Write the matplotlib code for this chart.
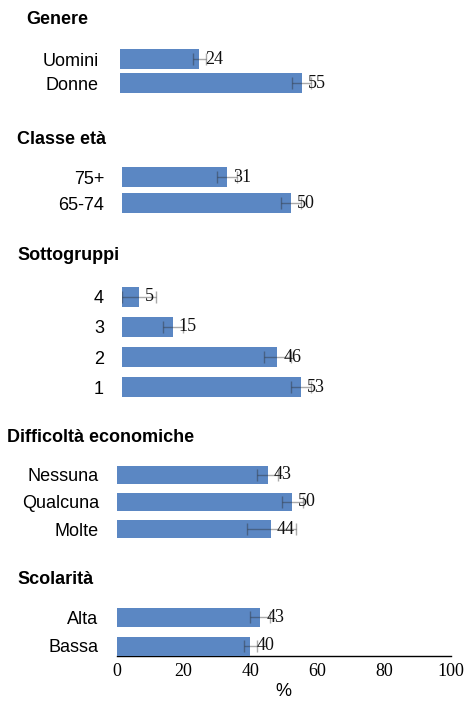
import matplotlib
matplotlib.use("Agg")
import matplotlib.pyplot as plt

# ---- data -------------------------------------------------------------
genere_labels = ["Uomini", "Donne"]
genere_vals = [24, 55]
genere_lo = [22, 52]
genere_hi = [26, 58]

eta_labels = ["75+", "65-74"]
eta_vals = [31, 50]
eta_lo = [28, 47]
eta_hi = [34, 53]

sotto_labels = ["4", "3", "2", "1"]
sotto_vals = [5, 15, 46, 53]
sotto_lo = [0, 12, 42, 50]
sotto_hi = [10, 18, 50, 56]

diff_labels = ["Nessuna", "Qualcuna", "Molte"]
diff_vals = [43, 50, 44]
diff_lo = [40, 47, 37]
diff_hi = [46, 53, 51]

scol_labels = ["Alta", "Bassa"]
scol_vals = [43, 40]
scol_lo = [40, 38]
scol_hi = [46, 42]

x_ticks = [0, 20, 40, 60, 80, 100]

# ---- style ------------------------------------------------------------
W, H = 468, 702
DPI = 100
SANS = "Liberation Sans"
SERIF = "Liberation Serif"
BAR = "#5B87C3"
FS = 13

fig = plt.figure(figsize=(W / DPI, H / DPI), dpi=DPI)


def px2pt(p):
    return p * 72.0 / DPI


def panel(title, title_xy, labels, vals, lo, hi, left, scale, c0, sp, bh,
          label_right, last=False):
    n = len(labels)
    top_px = c0 - sp / 2
    if last:
        bottom_px = c0 + (n - 1) * sp + bh / 2
    else:
        bottom_px = c0 + (n - 1) * sp + sp / 2
    width_px = scale * 100
    ax = fig.add_axes([left / W, 1 - bottom_px / H, width_px / W,
                       (bottom_px - top_px) / H])
    ypos = list(range(n))
    ax.barh(ypos, vals, height=bh / sp, color=BAR, zorder=2)
    err = [[v - l for v, l in zip(vals, lo)], [h - v for v, h in zip(vals, hi)]]
    ax.errorbar(vals, ypos, xerr=err, fmt="none", ecolor="#2b2b2b",
                elinewidth=1, capsize=4, capthick=1, alpha=0.4, zorder=3)
    for y, v in zip(ypos, vals):
        ax.annotate(str(v), xy=(v, y), xytext=(px2pt(6), 0),
                    textcoords="offset points", ha="left", va="center",
                    fontsize=FS, family=SERIF, color="#111111", zorder=4)
    ax.set_xlim(0, 100)
    ax.set_ylim((bottom_px - c0) / sp, -0.5)
    ax.set_yticks(ypos)
    ax.set_yticklabels(labels, family=SANS, fontsize=FS)
    ax.tick_params(axis="y", length=0, pad=px2pt(left - label_right))
    for s in ["top", "right", "left"]:
        ax.spines[s].set_visible(False)
    if last:
        ax.spines["bottom"].set_color("black")
        ax.spines["bottom"].set_linewidth(1.0)
        ax.spines["bottom"].set_zorder(1)
        ax.set_xticks(x_ticks)
        ax.set_xticklabels([str(t) for t in x_ticks], family=SERIF, fontsize=FS)
        ax.tick_params(axis="x", length=0, pad=px2pt(7))
        ax.set_xlabel("%", family=SANS, fontsize=FS, labelpad=px2pt(4))
    else:
        ax.spines["bottom"].set_visible(False)
        ax.set_xticks([])
    ax.set_facecolor("none")
    fig.text(title_xy[0] / W, 1 - title_xy[1] / H, title, ha="left",
             va="center", family=SANS, fontweight="bold", fontsize=FS)
    return ax


panel("Genere", (26, 19), genere_labels, genere_vals, genere_lo, genere_hi,
      left=120, scale=3.3, c0=59, sp=24, bh=20, label_right=99)
panel("Classe età", (17, 140), eta_labels, eta_vals, eta_lo, eta_hi,
      left=122, scale=3.38, c0=177, sp=26, bh=20, label_right=104)
panel("Sottogruppi", (17, 256), sotto_labels, sotto_vals, sotto_lo, sotto_hi,
      left=122, scale=3.38, c0=297, sp=30, bh=20, label_right=104)
panel("Difficoltà economiche", (7, 438), diff_labels, diff_vals, diff_lo,
      diff_hi, left=117, scale=3.5, c0=475, sp=27, bh=18, label_right=99)
panel("Scolarità", (17, 580), scol_labels, scol_vals, scol_lo, scol_hi,
      left=116.7, scale=3.34, c0=617, sp=29, bh=19, label_right=98, last=True)

fig.savefig("out.png", dpi=DPI)
